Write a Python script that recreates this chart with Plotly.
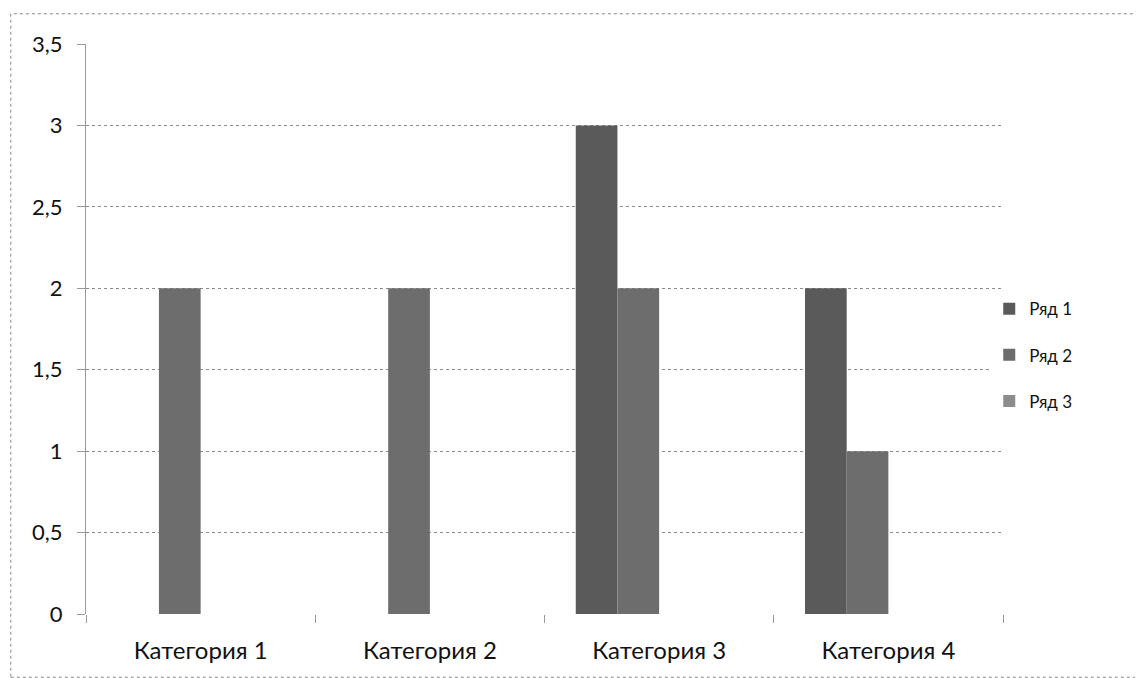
import plotly.graph_objects as go

categories = ["Категория 1", "Категория 2", "Категория 3", "Категория 4"]
series_names = ["Ряд 1", "Ряд 2", "Ряд 3"]
row1 = [0, 0, 3, 2]
row2 = [2, 2, 2, 1]
row3 = [0, 0, 0, 0]
y_ticks = [0, 0.5, 1, 1.5, 2, 2.5, 3, 3.5]

colors = ["#5a5a5a", "#6d6d6d", "#8c8c8c"]
w = 1 / 5.5  # Excel-like slot width (4 slots, gap 150%)

fig = go.Figure()
for k, (name, vals) in enumerate(zip(series_names, [row1, row2, row3])):
    fig.add_trace(go.Bar(
        x=categories, y=vals, name=name,
        width=w, offset=-2 * w + k * w,
        marker=dict(color=colors[k], line=dict(width=0)),
        legendgroup=name,
    ))

font = "Lato, 'Noto Sans', sans-serif"
fig.update_layout(
    width=1135, height=670,
    barmode="overlay",
    separators=", ",
    paper_bgcolor="white", plot_bgcolor="white",
    margin=dict(l=78, r=140, t=36, b=64),
    font=dict(family=font, size=21, color="#111"),
    legend=dict(x=0.985, y=0.454, yanchor="middle", xanchor="left",
                font=dict(size=17), tracegroupgap=21, itemwidth=30,
                traceorder="grouped"),
    xaxis=dict(
        type="category", tickson="boundaries", ticks="outside", ticklen=8,
        tickcolor="#999", showgrid=False, showline=False, zeroline=False,
        tickfont=dict(size=24), ticklabelstandoff=20,
    ),
    yaxis=dict(
        range=[0, 3.5001], tickvals=y_ticks, ticks="outside", ticklen=8,
        tickcolor="#999", showgrid=True, gridcolor="#8a8a8a", griddash="dot",
        gridwidth=1, showline=True, linecolor="#999", zeroline=False,
        tickfont=dict(size=22), ticklabelstandoff=10,
    ),
    shapes=[dict(type="rect", xref="paper", yref="paper",
                 x0=-0.082, x1=1.3, y0=-0.111, y1=1.053,
                 line=dict(color="#888", width=1, dash="dot"))],
)

fig.write_html("out.html")
